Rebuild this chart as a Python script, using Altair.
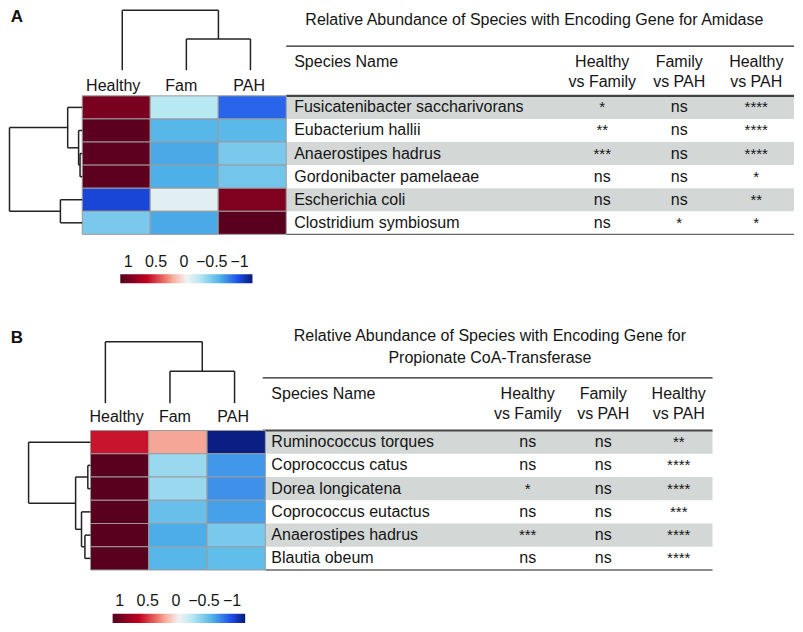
import altair as alt
import pandas as pd

FONT = "Liberation Sans"
W, H = 787, 616


def px(x):
    return round((x - 2) * W / 792, 2)


def py(y):
    return round((y - 8) * H / 624, 2)


# ---------------- data ----------------
groups = ["Healthy", "Fam", "PAH"]
comparisons = ["Healthy\nvs Family", "Family\nvs PAH", "Healthy\nvs PAH"]

species_a = ["Fusicatenibacter saccharivorans", "Eubacterium hallii", "Anaerostipes hadrus",
             "Gordonibacter pamelaeae", "Escherichia coli", "Clostridium symbiosum"]
healthy_a = [0.86, 0.97, 0.97, 0.97, -0.82, -0.38]
fam_a = [-0.20, -0.48, -0.53, -0.51, -0.06, -0.53]
pah_a = [-0.72, -0.47, -0.38, -0.40, 0.84, 0.98]
hvf_a = ["*", "**", "***", "ns", "ns", "ns"]
fvp_a = ["ns", "ns", "ns", "ns", "ns", "*"]
hvp_a = ["****", "****", "****", "*", "**", "*"]
row_links_a = [(2, 3, 0.03), (1, 6, 0.05), (0, 7, 0.20), (4, 5, 0.30), (8, 9, 1.00)]
col_links_a = [(1, 2, 0.52), (0, 3, 1.00)]
title_a = "Relative Abundance of Species with Encoding Gene for Amidase"

species_b = ["Ruminococcus torques", "Coprococcus catus", "Dorea longicatena",
             "Coprococcus eutactus", "Anaerostipes hadrus", "Blautia obeum"]
healthy_b = [0.55, 0.98, 0.98, 0.98, 0.98, 0.98]
fam_b = [0.22, -0.29, -0.29, -0.43, -0.52, -0.48]
pah_b = [-0.98, -0.58, -0.60, -0.56, -0.38, -0.45]
hvf_b = ["ns", "ns", "*", "ns", "***", "ns"]
fvp_b = ["ns", "ns", "ns", "ns", "ns", "ns"]
hvp_b = ["**", "****", "****", "***", "****", "****"]
row_links_b = [(1, 2, 0.043), (4, 5, 0.09), (3, 7, 0.145), (6, 8, 0.24), (0, 9, 1.00)]
col_links_b = [(1, 2, 0.52), (0, 3, 1.00)]
title_b = "Relative Abundance of Species with Encoding Gene for\nPropionate CoA-Transferase"

legend_ticks = [1, 0.5, 0, -0.5, -1]
legend_labels = ["1", "0.5", "0", "\u22120.5", "\u22121"]

color_vals = [-1, -0.78, -0.5, -0.2, 0, 0.2, 0.3, 0.6, 1]
color_hex = ["#08197a", "#1d50ec", "#50b4e8", "#b8e8f2", "#f2f2f2",
             "#f8b0a0", "#f08070", "#c00020", "#55001f"]

# ---------------- helpers ----------------
color_scale = alt.Scale(domain=color_vals, range=color_hex, interpolate="rgb")
gradient = alt.LinearGradient(
    gradient="linear",
    stops=[alt.GradientStop(color=c, offset=round((1 - v) / 2, 3))
           for v, c in zip(reversed(color_vals), reversed(color_hex))],
    x1=0, x2=1, y1=0, y2=0)
one = pd.DataFrame({"k": [0]})
TXT = "#151515"
LINE = "#222222"


def heat_df(species, h, f, p):
    recs = []
    for i, s in enumerate(species):
        for g, v in zip(groups, (h[i], f[i], p[i])):
            recs.append({"species": s, "group": g, "value": v})
    return pd.DataFrame(recs)


def stat_df(species, a, b, c):
    recs = []
    for i, s in enumerate(species):
        for comp, v in zip(comparisons, (a[i], b[i], c[i])):
            recs.append({"species": s, "comp": comp, "sig": v})
    return pd.DataFrame(recs)


def dendro_df(links, n):
    pos = {i: float(i) for i in range(n)}
    ht = {i: 0.0 for i in range(n)}
    segs = []
    for k, (a, b, h) in enumerate(links):
        node = n + k
        segs.append({"h1": h, "h2": h, "p1": pos[a], "p2": pos[b]})
        segs.append({"h1": ht[a], "h2": h, "p1": pos[a], "p2": pos[a]})
        segs.append({"h1": ht[b], "h2": h, "p1": pos[b], "p2": pos[b]})
        pos[node] = (pos[a] + pos[b]) / 2
        ht[node] = h
    return pd.DataFrame(segs)


def hline(x1, x2, y, width, color):
    return alt.Chart(one).mark_rule(strokeWidth=width, color=color).encode(
        x=alt.value(px(x1)), x2=alt.value(px(x2)), y=alt.value(py(y)))


def panel(g, species, h, f, p, a, b, c, row_links, col_links, title, letter):
    n = len(species)
    band_y = alt.Scale(domain=species, range=[py(g["hy0"]), py(g["hy1"])],
                       paddingInner=0, paddingOuter=0)
    band_x = alt.Scale(domain=groups, range=[px(g["hx0"]), px(g["hx1"])],
                       paddingInner=0, paddingOuter=0)
    comp_x = alt.Scale(type="point", domain=comparisons,
                       range=[px(g["cx0"]), px(g["cx1"])], padding=0)
    layers = []
    rows = pd.DataFrame({"species": species, "row": list(range(n))})
    # table shading
    layers.append(alt.Chart(rows).transform_filter("datum.row % 2 == 0").mark_rect(
        color="#d3d8d7").encode(
        y=alt.Y("species:N", scale=band_y, axis=None),
        x=alt.value(px(g["tx0"])), x2=alt.value(px(g["tx1"]))))
    # table lines
    layers.append(hline(g["lx0"], g["tx1"], g["top"], 1.3, "#222222"))
    layers.append(hline(g["lx0"], g["tx1"], g["hy0"], 2.2, "#444444"))
    layers.append(hline(g["tx0"], g["tx1"], g["hy1"], 1.4, "#666666"))
    # table title
    layers.append(alt.Chart(one).mark_text(
        text=title, lineBreak="\n", fontSize=16, align="center", baseline="alphabetic",
        lineHeight=21.7, color=TXT).encode(
        x=alt.value(px(g["title_x"])), y=alt.value(py(g["title_y"]))))
    # headers
    layers.append(alt.Chart(one).mark_text(
        text="Species Name", fontSize=16, align="left", baseline="alphabetic",
        color=TXT).encode(x=alt.value(px(g["name_x"])), y=alt.value(py(g["head_y"]))))
    layers.append(alt.Chart(pd.DataFrame({"comp": comparisons})).mark_text(
        fontSize=16, align="center", baseline="alphabetic", lineBreak="\n",
        lineHeight=20, color=TXT).encode(
        x=alt.X("comp:N", scale=comp_x, axis=None),
        y=alt.value(py(g["head_y"])), text="comp:N"))
    # species names
    layers.append(alt.Chart(rows).mark_text(
        fontSize=16, align="left", baseline="middle", color=TXT).encode(
        y=alt.Y("species:N", scale=band_y, axis=None),
        x=alt.value(px(g["name_x"])), text="species:N"))
    # significance
    sd = stat_df(species, a, b, c)
    layers.append(alt.Chart(sd).transform_filter("datum.sig == 'ns'").mark_text(
        fontSize=16, align="center", baseline="middle", color=TXT).encode(
        x=alt.X("comp:N", scale=comp_x, axis=None),
        y=alt.Y("species:N", scale=band_y, axis=None), text="sig:N"))
    layers.append(alt.Chart(sd).transform_filter("datum.sig != 'ns'").mark_text(
        fontSize=15, align="center", baseline="middle", color=TXT).encode(
        x=alt.X("comp:N", scale=comp_x, axis=None),
        y=alt.Y("species:N", scale=band_y, axis=None), text="sig:N"))
    # heatmap
    layers.append(alt.Chart(heat_df(species, h, f, p)).mark_rect(
        stroke="#9c9c9c", strokeWidth=1).encode(
        x=alt.X("group:N", scale=band_x, axis=None),
        y=alt.Y("species:N", scale=band_y, axis=None),
        color=alt.Color("value:Q", scale=color_scale, legend=None)))
    # column labels
    layers.append(alt.Chart(pd.DataFrame({"group": groups})).mark_text(
        fontSize=16, align="center", baseline="middle", dx=-3, color=TXT).encode(
        x=alt.X("group:N", scale=band_x, axis=None),
        y=alt.value(py(g["lab_y"])), text="group:N"))
    # row dendrogram
    layers.append(alt.Chart(dendro_df(row_links, n)).mark_rule(
        color=LINE, strokeWidth=1.5).encode(
        x=alt.X("h1:Q", scale=alt.Scale(domain=[0, 1], range=[px(g["hx0"]), px(g["root_x"])],
                                         nice=False, zero=False), axis=None),
        x2="h2:Q",
        y=alt.Y("p1:Q", scale=alt.Scale(domain=[-0.5, n - 0.5], range=[py(g["hy0"]), py(g["hy1"])],
                                         nice=False, zero=False), axis=None),
        y2="p2:Q"))
    # column dendrogram
    layers.append(alt.Chart(dendro_df(col_links, len(groups))).mark_rule(
        color=LINE, strokeWidth=1.5).encode(
        y=alt.Y("h1:Q", scale=alt.Scale(domain=[0, 1], range=[py(g["cd_y0"]), py(g["cd_y1"])],
                                         nice=False, zero=False), axis=None),
        y2="h2:Q",
        x=alt.X("p1:Q", scale=alt.Scale(domain=[0, len(groups) - 1],
                                         range=[px(g["cd_x0"]), px(g["cd_x1"])],
                                         nice=False, zero=False), axis=None),
        x2="p2:Q"))
    # colour bar
    layers.append(alt.Chart(one).mark_rect(color=gradient).encode(
        x=alt.value(px(g["cb_x0"])), x2=alt.value(px(g["cb_x1"])),
        y=alt.value(py(g["cb_y0"])), y2=alt.value(py(g["cb_y1"]))))
    layers.append(alt.Chart(pd.DataFrame({"v": legend_ticks, "t": legend_labels})).mark_text(
        fontSize=16, align="center", baseline="middle", color=TXT).encode(
        x=alt.X("v:Q", scale=alt.Scale(domain=[-1, 1], range=[px(g["cl_m1"]), px(g["cl_p1"])],
                                        nice=False, zero=False), axis=None),
        y=alt.value(py(g["cl_y"])), text="t:N"))
    # panel letter
    layers.append(alt.Chart(one).mark_text(
        text=letter, fontSize=17, fontWeight="bold", align="center", baseline="middle",
        color="#111111").encode(x=alt.value(px(g["let_x"])), y=alt.value(py(g["let_y"]))))
    return layers


geo_a = dict(hx0=76.7, hx1=282, hy0=97, hy1=237.3, root_x=3.5,
             cd_x0=117, cd_x1=246, cd_y0=71, cd_y1=10.3, lab_y=87.3,
             tx0=282, tx1=793, lx0=282, top=46.7,
             title_x=531.7, title_y=25.7, name_x=290, head_y=67.5, cx0=600, cx1=755,
             cb_x0=115, cb_x1=248, cb_y0=277.7, cb_y1=286.7, cl_p1=123, cl_m1=235, cl_y=265,
             let_x=11, let_y=17)
geo_b = dict(hx0=85, hx1=261, hy0=436, hy1=577.3, root_x=22.7,
             cd_x0=100, cd_x1=230, cd_y0=408.3, cd_y1=346, lab_y=422.7,
             tx0=261, tx1=711, lx0=258.3, top=382.7,
             title_x=487, title_y=345.7, name_x=267, head_y=404, cx0=525, cx1=677,
             cb_x0=107.3, cb_x1=240.7, cb_y0=621.7, cb_y1=631, cl_p1=114.3, cl_m1=227.5, cl_y=609,
             let_x=11, let_y=342.5)

layers = panel(geo_a, species_a, healthy_a, fam_a, pah_a, hvf_a, fvp_a, hvp_a,
               row_links_a, col_links_a, title_a, "A")
layers += panel(geo_b, species_b, healthy_b, fam_b, pah_b, hvf_b, fvp_b, hvp_b,
                row_links_b, col_links_b, title_b, "B")

chart = alt.layer(*layers).resolve_scale(
    x="independent", y="independent"
).properties(
    width=W, height=H, padding=0, autosize=alt.AutoSizeParams(type="none")
).configure_view(stroke=None).configure_text(font=FONT)

chart.save("out.html", embed_options={"renderer": "svg", "actions": False})
